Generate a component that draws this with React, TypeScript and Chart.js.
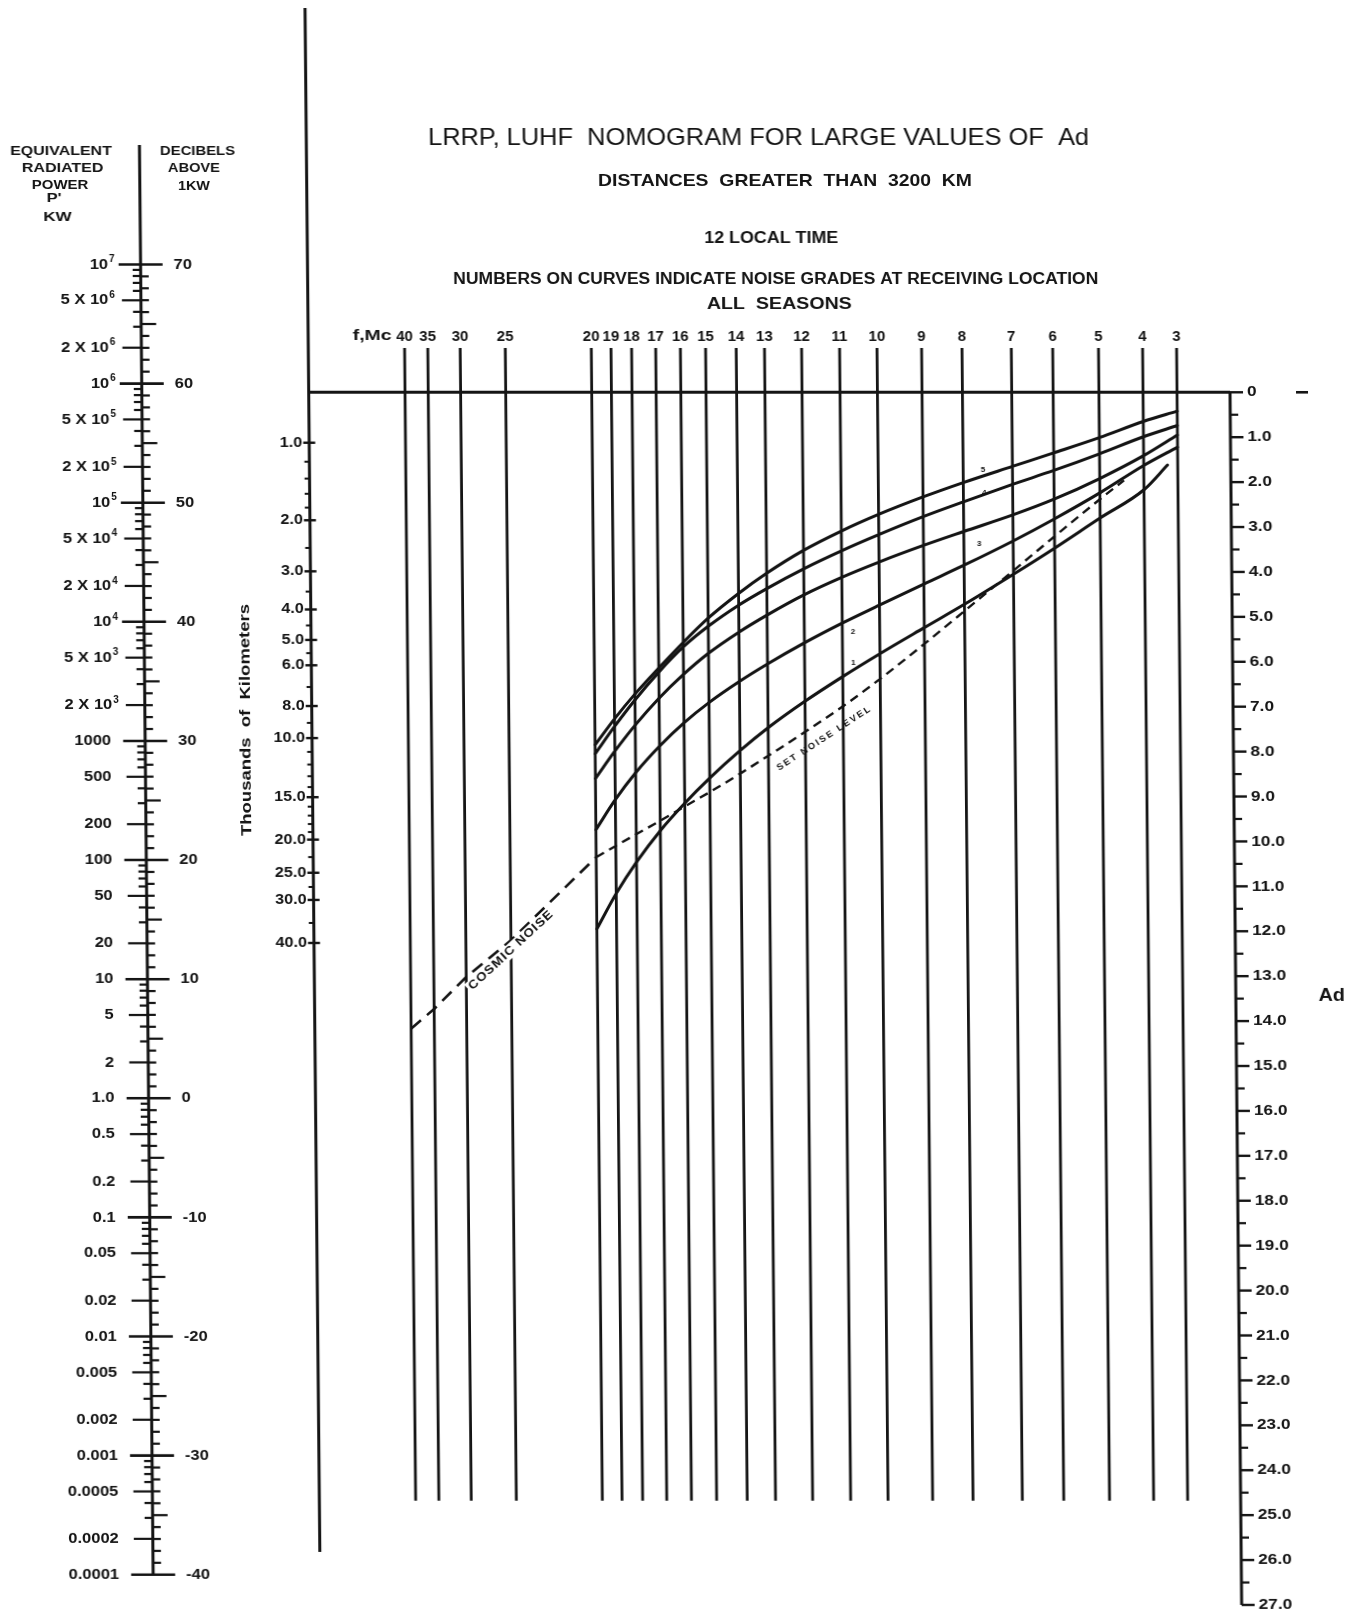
import React, { useEffect, useRef } from 'react';
import { Chart, registerables } from 'chart.js';

Chart.register(...registerables);

// ---------------- DATA ----------------
// Frequency scale (MHz) and its graduation along the nomogram abscissa (sheet units)
const FREQUENCIES = [40, 35, 30, 25, 20, 19, 18, 17, 16, 15, 14, 13, 12, 11, 10, 9, 8, 7, 6, 5, 4, 3];
const FREQ_GRADUATION = [409, 432.2, 464.6, 509.7, 595.7, 615.4, 636, 660.1, 684.8, 710, 740.6, 768.9, 806, 844, 881.4, 926, 966.4, 1015.7, 1057.1, 1102.9, 1147, 1181];

// Noise-grade curves: Ad read on each frequency line
const CURVE_FREQS = [20, 19, 18, 17, 16, 15, 14, 13, 12, 11, 10, 9, 8, 7, 6, 5, 4, 3];
const GRADE_5 = [7.85, 7.27, 6.72, 6.14, 5.57, 5.03, 4.48, 4.03, 3.52, 3.09, 2.72, 2.33, 2.01, 1.65, 1.35, 1.01, 0.65, 0.42];
const GRADE_4 = [8.05, 7.44, 6.85, 6.23, 5.67, 5.21, 4.74, 4.37, 3.93, 3.53, 3.17, 2.77, 2.44, 2.05, 1.74, 1.37, 0.99, 0.74];
const GRADE_3 = [8.6, 7.99, 7.41, 6.81, 6.28, 5.81, 5.34, 4.96, 4.51, 4.12, 3.78, 3.41, 3.1, 2.73, 2.38, 1.92, 1.41, 0.95];
const GRADE_2 = [9.74, 9.07, 8.47, 7.88, 7.36, 6.91, 6.44, 6.05, 5.58, 5.14, 4.74, 4.27, 3.85, 3.31, 2.82, 2.24, 1.63, 1.22];
const GRADE_1_FREQS = [20, 19, 18, 17, 16, 15, 14, 13, 12, 11, 10, 9, 8, 7, 6, 5, 4, 3.3];
const GRADE_1 = [11.95, 11.16, 10.46, 9.76, 9.15, 8.59, 7.98, 7.47, 6.88, 6.33, 5.82, 5.24, 4.72, 4.05, 3.47, 2.8, 2.17, 1.62];
const COSMIC_FREQS = [40, 35, 30, 25, 20];
const COSMIC_NOISE = [14.17, 13.73, 13.02, 12.2, 10.35];
const SET_NOISE_FREQS = [20, 19, 18, 17, 16, 15, 14, 13, 12, 11, 10, 9, 8, 7, 6, 5, 4.45];
const SET_NOISE = [10.35, 10.1, 9.84, 9.54, 9.22, 8.9, 8.49, 8.09, 7.56, 6.99, 6.38, 5.6, 4.87, 3.97, 3.21, 2.38, 1.96];
const GRADE_LABELS = ['5', '4', '3', '2', '1'];
const GRADE_LABEL_FREQS = [7.6, 7.58, 7.69, 10.71, 10.71];
const GRADE_LABEL_AD = [1.72, 2.24, 3.37, 5.34, 6.03];

// Left scale: equivalent radiated power (kW) and decibels above 1 kW
const POWER_LABELS = ['10⁷', '5 X 10⁶', '2 X 10⁶', '10⁶', '5 X 10⁵', '2 X 10⁵', '10⁵', '5 X 10⁴', '2 X 10⁴', '10⁴', '5 X 10³', '2 X 10³', '1000', '500', '200', '100', '50', '20', '10', '5', '2', '1.0', '0.5', '0.2', '0.1', '0.05', '0.02', '0.01', '0.005', '0.002', '0.001', '0.0005', '0.0002', '0.0001'];
const POWER_VALUES = [1e7, 5e6, 2e6, 1e6, 5e5, 2e5, 1e5, 5e4, 2e4, 1e4, 5e3, 2e3, 1000, 500, 200, 100, 50, 20, 10, 5, 2, 1, 0.5, 0.2, 0.1, 0.05, 0.02, 0.01, 0.005, 0.002, 0.001, 0.0005, 0.0002, 0.0001];
const DB_LABELS = ['70', '60', '50', '40', '30', '20', '10', '0', '-10', '-20', '-30', '-40'];
const DB_VALUES = [70, 60, 50, 40, 30, 20, 10, 0, -10, -20, -30, -40];

// Distance scale (thousands of km)
const DIST_LABELS = ['1.0', '2.0', '3.0', '4.0', '5.0', '6.0', '8.0', '10.0', '15.0', '20.0', '25.0', '30.0', '40.0'];
const DIST_VALUES = [1, 2, 3, 4, 5, 6, 8, 10, 15, 20, 25, 30, 40];
const DIST_MINOR = [1.2, 1.4, 1.6, 1.8, 2.5, 3.5, 4.5, 5.5, 7, 9, 11, 12, 13, 14, 16, 17, 18, 19, 22.5, 27.5, 35];

// Ad scale
const AD_VALUES = Array.from({ length: 28 }, (_, i) => i);
const AD_LABELS = AD_VALUES.map((v) => (v === 0 ? '0' : v.toFixed(1)));

const TITLE = 'LRRP, LUHF  NOMOGRAM FOR LARGE VALUES OF  Ad';
const SUBTITLE = 'DISTANCES  GREATER  THAN  3200  KM';
const TIME_NOTE = '12 LOCAL TIME';
const CURVE_NOTE = 'NUMBERS ON CURVES INDICATE NOISE GRADES AT RECEIVING LOCATION';
const SEASON_NOTE = 'ALL  SEASONS';

// ---------------- LAYOUT / STYLE ----------------
const W = 1362;
const H = 1614;
const INK = '#141414';
const FONT = '"Liberation Sans", Arial, "DejaVu Sans", sans-serif';
const SUP_DIGITS = '⁰¹²³⁴⁵⁶⁷⁸⁹';
const POWER_AXIS_X = 145.8;
const DIST_AXIS_X = 312.7;
const AD_AXIS_X = 1234;
const AD_ZERO_PX = 392.3;
const AD_PX_PER_UNIT = 44.915;
const DB_ZERO_PX = 1098.3;
const DB_PX_PER_UNIT = 11.912;
const DIST_ORIGIN_PX = 381.2;
const DIST_PX_PER_DECADE = 349.5;
const FREQ_LINE_TOP = -0.986;
const FREQ_LINE_BOTTOM = 24.68;

function freqToX(f: number): number {
  for (let i = 0; i < FREQUENCIES.length - 1; i++) {
    const f0 = FREQUENCIES[i];
    const f1 = FREQUENCIES[i + 1];
    if (f <= f0 && f >= f1) {
      const t = (f0 - f) / (f0 - f1);
      return FREQ_GRADUATION[i] + t * (FREQ_GRADUATION[i + 1] - FREQ_GRADUATION[i]);
    }
  }
  return NaN;
}

const pts = (freqs: number[], ads: number[]) => freqs.map((f, i) => ({ x: freqToX(f), y: ads[i] }));

type TextOpts = {
  size: number;
  weight?: string;
  align?: CanvasTextAlign;
  width?: number;
  stretch?: number;
  rotate?: number;
  bg?: boolean;
  spacing?: number;
};

function drawText(ctx: CanvasRenderingContext2D, text: string, x: number, y: number, o: TextOpts) {
  ctx.save();
  ctx.translate(x, y);
  if (o.rotate) ctx.rotate((o.rotate * Math.PI) / 180);
  ctx.font = `${o.weight ?? 'bold'} ${o.size}px ${FONT}`;
  (ctx as any).letterSpacing = `${o.spacing ?? 0}px`;
  const w = ctx.measureText(text).width;
  const sx = o.width ? o.width / w : o.stretch ?? 1;
  ctx.scale(sx, 1);
  ctx.textAlign = o.align ?? 'center';
  ctx.textBaseline = 'middle';
  if (o.bg) {
    const left = ctx.textAlign === 'center' ? -w / 2 : ctx.textAlign === 'right' ? -w : 0;
    ctx.fillStyle = '#ffffff';
    ctx.fillRect(left - 2, -o.size * 0.55, w + 4, o.size * 1.1);
  }
  ctx.fillStyle = INK;
  ctx.fillText(text, 0, 0);
  ctx.restore();
}

// right-aligned label whose last character may be a superscript exponent
function drawPowerLabel(ctx: CanvasRenderingContext2D, label: string, right: number, y: number) {
  const last = label[label.length - 1];
  const e = SUP_DIGITS.indexOf(last);
  if (e < 0) {
    drawText(ctx, label, right, y, { size: 15, align: 'right', stretch: 1.1 });
    return;
  }
  const base = label.slice(0, -1);
  ctx.save();
  ctx.font = `bold 10px ${FONT}`;
  const ew = ctx.measureText(String(e)).width;
  ctx.restore();
  drawText(ctx, String(e), right, y - 5, { size: 10, align: 'right', stretch: 1.0 });
  drawText(ctx, base, right - ew - 1, y, { size: 15, align: 'right', stretch: 1.1 });
}

const nomogramPlugin = {
  id: 'nomogram',
  beforeDatasetsDraw(chart: any) {
    const { ctx, scales: s } = chart;
    const X = (v: number) => s.x.getPixelForValue(v);
    const AD = (v: number) => s.y.getPixelForValue(v);
    const DB = (v: number) => s.db.getPixelForValue(v);
    const DIST = (d: number) => s.dist.getPixelForValue(Math.log10(d + 0.5));
    const SH = (v: number) => s.sheet.getPixelForValue(v);
    const seg = (x1: number, y1: number, x2: number, y2: number, w: number) => {
      ctx.lineWidth = w;
      ctx.beginPath();
      ctx.moveTo(x1, y1);
      ctx.lineTo(x2, y2);
      ctx.stroke();
    };
    ctx.save();
    ctx.strokeStyle = INK;
    ctx.lineCap = 'butt';

    // power / decibel scale
    const px = X(POWER_AXIS_X);
    seg(px, SH(145), px, DB(-40), 3);
    for (let d = -40; d <= 70; d++) {
      const y = DB(d);
      if (d % 10 === 0) seg(px - 22, y, px + 22, y, 2.6);
      else seg(px, y, px + (d % 5 === 0 ? 15 : 8), y, 2.2);
    }
    for (let e = -4; e <= 6; e++) {
      for (const m of [2, 3, 4, 5, 6, 7, 8, 9]) {
        const y = DB(10 * Math.log10(m * Math.pow(10, e)));
        seg(px - (m === 2 || m === 5 ? 19 : 8), y, px, y, 2.2);
      }
    }

    // long line carrying the distance scale
    const dx = X(DIST_AXIS_X);
    seg(dx, SH(8), dx, SH(1552), 3);
    DIST_VALUES.forEach((d) => seg(dx - 6, DIST(d), dx + 6, DIST(d), 2.4));
    DIST_MINOR.forEach((d) => seg(dx - 5, DIST(d), dx, DIST(d), 2));

    // Ad scale and the zero line
    const ax = X(AD_AXIS_X);
    seg(dx, AD(0), ax, AD(0), 3);
    seg(ax, AD(0), ax, AD(27), 3);
    AD_VALUES.forEach((v) => seg(ax, AD(v), ax + 13, AD(v), 2.4));
    AD_VALUES.slice(0, -1).forEach((v) => seg(ax, AD(v + 0.5), ax + 8, AD(v + 0.5), 2.2));
    seg(X(1300), AD(0), X(1312), AD(0), 2.6);
    ctx.restore();
  },
  afterDatasetsDraw(chart: any) {
    const { ctx, scales: s } = chart;
    const X = (v: number) => s.x.getPixelForValue(v);
    const AD = (v: number) => s.y.getPixelForValue(v);
    const DB = (v: number) => s.db.getPixelForValue(v);
    const DIST = (d: number) => s.dist.getPixelForValue(Math.log10(d + 0.5));
    const SH = (v: number) => s.sheet.getPixelForValue(v);

    // headings
    drawText(ctx, TITLE, X(765), SH(138), { size: 24, weight: 'normal', width: 661 });
    drawText(ctx, SUBTITLE, X(791), SH(181), { size: 17, width: 374 });
    drawText(ctx, TIME_NOTE, X(776.7), SH(238), { size: 17, width: 134 });
    drawText(ctx, CURVE_NOTE, X(780.8), SH(280), { size: 16, width: 645 });
    drawText(ctx, SEASON_NOTE, X(784.2), SH(304), { size: 17, width: 145 });

    // left-scale headings
    const px = X(POWER_AXIS_X);
    drawText(ctx, 'EQUIVALENT', X(67.3), SH(151.7), { size: 12, width: 101.7 });
    drawText(ctx, 'RADIATED', X(68.8), SH(169), { size: 12, width: 81.6 });
    drawText(ctx, 'POWER', X(66.1), SH(185.5), { size: 12, width: 56.6 });
    drawText(ctx, "P'", X(60), SH(199), { size: 12, width: 15 });
    drawText(ctx, 'KW', X(63.2), SH(217.3), { size: 13, width: 28.4 });
    drawText(ctx, 'DECIBELS', X(203.8), SH(151.7), { size: 12, width: 75 });
    drawText(ctx, 'ABOVE', X(200.1), SH(169), { size: 12, width: 52 });
    drawText(ctx, '1KW', X(199.9), SH(186.7), { size: 12, width: 32 });

    POWER_VALUES.forEach((v, i) => {
      const lab = POWER_LABELS[i];
      const sup = SUP_DIGITS.indexOf(lab[lab.length - 1]) >= 0;
      drawPowerLabel(ctx, lab, px - (sup ? 26 : 34), DB(10 * Math.log10(v)));
    });
    DB_VALUES.forEach((v, i) => drawText(ctx, DB_LABELS[i], px + 33, DB(v), { size: 15, align: 'left', stretch: 1.1 }));

    // distance scale
    const dx = X(DIST_AXIS_X);
    DIST_VALUES.forEach((d, i) => drawText(ctx, DIST_LABELS[i], dx - 7, DIST(d), { size: 14, align: 'right', stretch: 1.15 }));
    drawText(ctx, 'Thousands  of  Kilometers', X(247.5), SH(720), { size: 14, rotate: -90, width: 232 });

    // Ad scale
    const ax = X(AD_AXIS_X);
    AD_VALUES.forEach((v, i) => drawText(ctx, AD_LABELS[i], ax + 17, AD(v), { size: 15, align: 'left', stretch: 1.15 }));
    drawText(ctx, 'Ad', X(1330), SH(996), { size: 18, stretch: 1.1 });

    // frequency labels
    drawText(ctx, 'f,Mc', X(376.7), SH(336.5), { size: 14, width: 39 });
    FREQUENCIES.forEach((f) => drawText(ctx, String(f), X(freqToX(f)), SH(336.5), { size: 15, stretch: 1.0 }));

    // curve annotations
    GRADE_LABELS.forEach((t, i) =>
      drawText(ctx, t, X(freqToX(GRADE_LABEL_FREQS[i])), AD(GRADE_LABEL_AD[i]), { size: 8 })
    );
    drawText(ctx, 'COSMIC NOISE', X(freqToX(25)), AD(12.42), { size: 12, rotate: -42.6, width: 112, bg: true, spacing: 1 });
    drawText(ctx, 'SET NOISE LEVEL', X(freqToX(11.5)), AD(7.7), { size: 9, rotate: -33, width: 112, spacing: 2 });
  },
};

function buildDatasets() {
  const base = { showLine: true, pointRadius: 0, pointHoverRadius: 0, fill: false, borderColor: INK };
  const freqLines = FREQUENCIES.map((f) => ({
    ...base,
    label: `${f} Mc`,
    data: [
      { x: freqToX(f), y: FREQ_LINE_TOP },
      { x: freqToX(f), y: FREQ_LINE_BOTTOM },
    ],
    borderWidth: 2.8,
  }));
  const curve = (label: string, freqs: number[], ads: number[]) => ({
    ...base,
    label,
    data: pts(freqs, ads),
    borderWidth: 3,
    cubicInterpolationMode: 'monotone' as const,
    borderCapStyle: 'round' as const,
    borderJoinStyle: 'round' as const,
  });
  return [
    ...freqLines,
    curve('Grade 5', CURVE_FREQS, GRADE_5),
    curve('Grade 4', CURVE_FREQS, GRADE_4),
    curve('Grade 3', CURVE_FREQS, GRADE_3),
    curve('Grade 2', CURVE_FREQS, GRADE_2),
    curve('Grade 1', GRADE_1_FREQS, GRADE_1),
    { ...base, label: 'Cosmic noise', data: pts(COSMIC_FREQS, COSMIC_NOISE), borderWidth: 2.6, borderDash: [13, 8] },
    {
      ...base,
      label: 'Set noise level',
      data: pts(SET_NOISE_FREQS, SET_NOISE),
      borderWidth: 2.4,
      borderDash: [9, 6],
      cubicInterpolationMode: 'monotone' as const,
    },
  ];
}

export default function App() {
  const ref = useRef<HTMLCanvasElement>(null);
  useEffect(() => {
    if (!ref.current) return;
    const chart = new Chart(ref.current, {
      type: 'scatter',
      data: { datasets: buildDatasets() as any },
      options: {
        animation: false,
        responsive: false,
        devicePixelRatio: 1,
        layout: { padding: 0 },
        plugins: { legend: { display: false }, tooltip: { enabled: false }, title: { display: false } },
        scales: {
          x: { type: 'linear', min: 0, max: W, display: false },
          y: {
            type: 'linear',
            min: -AD_ZERO_PX / AD_PX_PER_UNIT,
            max: (H - AD_ZERO_PX) / AD_PX_PER_UNIT,
            reverse: true,
            display: false,
          },
          db: {
            type: 'linear',
            axis: 'y',
            min: -(H - DB_ZERO_PX) / DB_PX_PER_UNIT,
            max: DB_ZERO_PX / DB_PX_PER_UNIT,
            display: false,
          },
          dist: {
            type: 'linear',
            axis: 'y',
            min: -DIST_ORIGIN_PX / DIST_PX_PER_DECADE,
            max: (H - DIST_ORIGIN_PX) / DIST_PX_PER_DECADE,
            reverse: true,
            display: false,
          },
          sheet: { type: 'linear', axis: 'y', min: 0, max: H, reverse: true, display: false },
        } as any,
      },
      plugins: [nomogramPlugin],
    });
    return () => chart.destroy();
  }, []);

  return (
    <div style={{ position: 'absolute', left: 0, top: 0, width: W, height: H, overflow: 'hidden', background: '#fff' }}>
      <canvas
        ref={ref}
        width={W}
        height={H}
        style={{ display: 'block', width: W, height: H, transform: 'skewX(0.55deg)', transformOrigin: '681px 807px' }}
      />
    </div>
  );
}
